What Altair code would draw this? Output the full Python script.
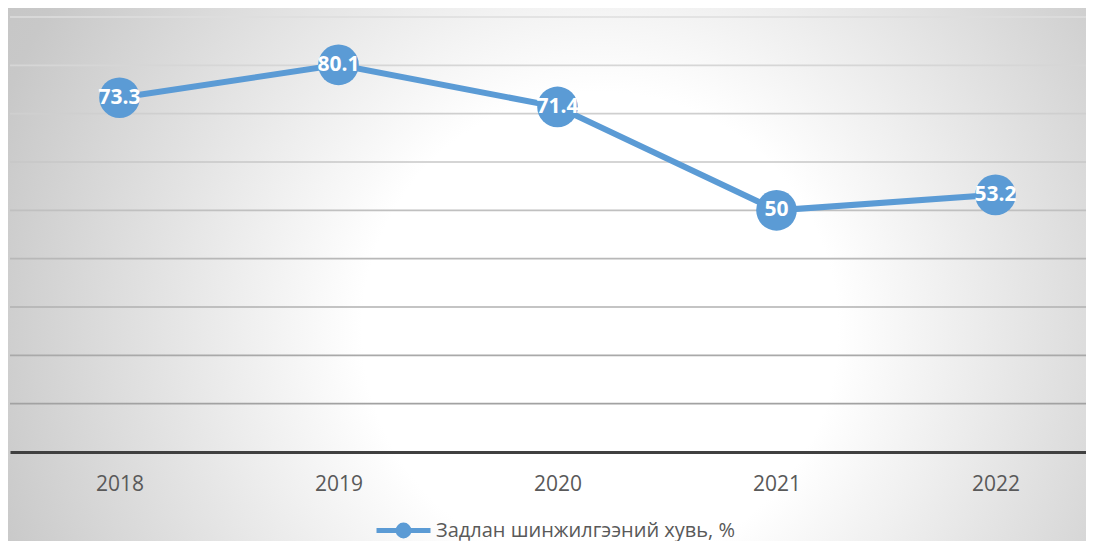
import altair as alt
import pandas as pd

years = [2018, 2019, 2020, 2021, 2022]
values = [73.3, 80.1, 71.4, 50, 53.2]
series_name = "Задлан шинжилгээний хувь, %"
grid_values = [10, 20, 30, 40, 50, 60, 70, 80, 90]

W = 1076
H = 435
STEP = 219.0
x_domain = [2017.5, 2017.5 + W / STEP]

df = pd.DataFrame({"year": years, "value": values, "series": [series_name] * len(years)})
grid_df = pd.DataFrame({"g": grid_values})

FONT = "Open Sans"
BLUE = "#5B9BD5"

x_enc = alt.X(
    "year:Q",
    scale=alt.Scale(domain=x_domain, nice=False, zero=False),
    axis=alt.Axis(
        values=years, format="d", title=None, grid=False, ticks=False,
        labelFontSize=21, labelFont=FONT, labelColor="#595959", labelPadding=21,
        domainColor="#404040", domainWidth=3, labelFlush=False, zindex=1,
    ),
)
y_scale = alt.Scale(domain=[0, 90], nice=False, zero=True)

bg = alt.Chart(alt.Data(values=[{}])).mark_rect(
    fill=alt.RadialGradient(
        gradient="radial", x1=0.5, y1=0.5, r1=0, x2=0.5, y2=0.5, r2=0.5,
        stops=[
            alt.GradientStop(offset=0, color="#ffffff"),
            alt.GradientStop(offset=0.28, color="#ffffff"),
            alt.GradientStop(offset=0.75, color="#c8c8c8"),
            alt.GradientStop(offset=1, color="#c0c0c0"),
        ],
    )
).encode(
    x=alt.value(-260), x2=alt.value(1440), y=alt.value(-537), y2=alt.value(1163)
)

grid = alt.Chart(grid_df).mark_rule(strokeWidth=1.6).encode(
    y=alt.Y("g:Q", scale=y_scale, axis=None),
    stroke=alt.Stroke("g:Q", scale=alt.Scale(domain=[10, 90], range=["#a2a2a2", "#dedede"]), legend=None),
)

line = alt.Chart(df).mark_line(strokeWidth=6).encode(
    x=x_enc,
    y=alt.Y("value:Q", scale=y_scale, axis=None),
    color=alt.Color(
        "series:N",
        scale=alt.Scale(domain=[series_name], range=[BLUE]),
        legend=alt.Legend(
            title=None, orient="none", legendX=364, legendY=484, padding=0,
            symbolType="M-1,0L1,0M0.2,0A0.2,0.2,0,1,1,-0.2,0A0.2,0.2,0,1,1,0.2,0",
            symbolSize=2916, symbolStrokeWidth=5, symbolFillColor=BLUE,
            symbolStrokeColor=BLUE, symbolOffset=0, labelLimit=0,
            labelFont=FONT, labelFontSize=20, labelColor="#595959", labelOffset=3,
        ),
    ),
)

points = alt.Chart(df).mark_circle(size=1650, opacity=1, color=BLUE).encode(
    x="year:Q", y=alt.Y("value:Q", scale=y_scale)
)

labels = alt.Chart(df).mark_text(
    color="white", fontWeight="bold", fontSize=21, font=FONT, baseline="middle", align="center"
).encode(
    x="year:Q", y=alt.Y("value:Q", scale=y_scale), text=alt.Text("value:Q", format="~g")
)

chart = alt.layer(bg, grid, line, points, labels).resolve_scale(
    stroke="independent", color="independent"
).properties(
    width=W, height=H,
    autosize=alt.AutoSizeParams(type="none"),
    padding={"left": 2, "top": 9, "right": 0, "bottom": 89},
    background="#d4d4d4",
).configure_view(strokeWidth=0)

chart.save("out.html", embed_options={"renderer": "svg", "actions": False})
